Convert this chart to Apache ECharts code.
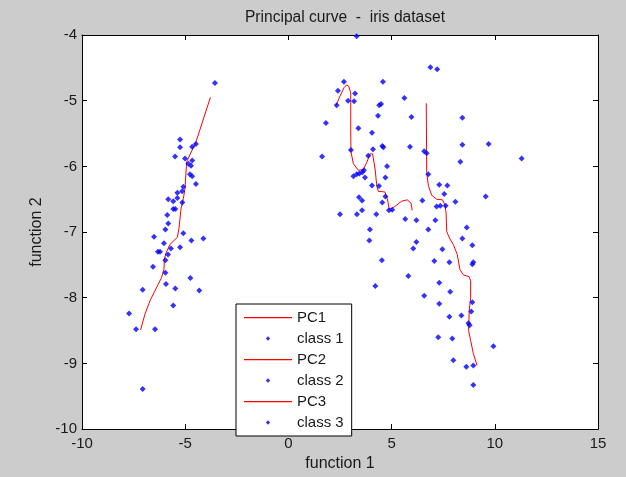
<!DOCTYPE html>
<html>
<head>
<meta charset="utf-8">
<script src="https://cdn.jsdelivr.net/npm/echarts@6/dist/echarts.min.js"></script>
<style>html,body{margin:0;padding:0;background:#cccccc;}#c{width:626px;height:477px;}</style>
</head>
<body>
<div id="c"></div>
<script>
var xTicks = [-10, -5, 0, 5, 10, 15];
var yTicks = [-10, -9, -8, -7, -6, -5, -4];

var class1 = [[-3.56,-4.73],[-5.25,-5.59],[-5.25,-5.71],[-5.49,-5.85],[-4.48,-5.66],[-4.66,-5.70],[-5.01,-5.88],[-4.66,-5.91],[-4.85,-5.96],[-4.72,-5.99],[-4.77,-6.12],[-4.66,-6.15],[-4.48,-6.27],[-5.09,-6.31],[-5.38,-6.40],[-5.38,-6.48],[-5.82,-6.50],[-5.58,-6.53],[-5.14,-6.55],[-5.15,-6.38],[-5.58,-6.65],[-5.48,-6.65],[-5.87,-6.74],[-5.82,-6.87],[-5.96,-6.96],[-6.51,-7.07],[-5.09,-7.02],[-4.70,-7.13],[-4.12,-7.10],[-6.03,-7.17],[-5.69,-7.25],[-5.25,-7.23],[-6.32,-7.30],[-6.22,-7.30],[-5.83,-7.34],[-5.96,-7.43],[-6.56,-7.53],[-5.96,-7.62],[-4.75,-7.70],[-5.93,-7.79],[-7.06,-7.88],[-5.48,-7.86],[-4.32,-7.89],[-5.58,-8.12],[-7.72,-8.24],[-7.38,-8.48],[-6.46,-8.48],[-7.06,-9.39]];

var class2 = [[3.31,-4.02],[2.69,-4.71],[4.58,-4.71],[2.40,-4.85],[3.23,-4.89],[2.34,-5.07],[2.89,-5.00],[3.18,-5.01],[4.40,-5.07],[4.49,-5.05],[5.62,-4.96],[4.34,-5.23],[5.96,-5.25],[1.82,-5.34],[3.39,-5.42],[4.05,-5.49],[4.55,-5.69],[4.60,-5.71],[5.89,-5.70],[1.63,-5.85],[3.03,-5.75],[4.10,-5.74],[3.87,-5.84],[4.78,-6.00],[4.70,-6.17],[3.15,-6.15],[3.31,-6.12],[3.44,-6.11],[3.58,-6.09],[3.66,-6.06],[3.71,-6.17],[4.05,-6.29],[4.39,-6.30],[4.70,-6.46],[3.42,-6.47],[3.57,-6.52],[4.55,-6.55],[2.50,-6.73],[3.32,-6.73],[3.57,-6.67],[4.26,-6.73],[4.87,-6.67],[5.03,-6.66],[5.66,-6.80],[6.20,-6.82],[3.95,-6.96],[3.92,-7.13],[6.20,-7.15],[6.05,-7.25],[4.53,-7.43],[5.81,-7.67],[4.21,-7.82]];

var class3 = [[6.88,-4.49],[7.21,-4.52],[6.58,-5.77],[6.70,-5.80],[8.33,-5.93],[6.78,-6.12],[7.31,-6.28],[7.70,-6.29],[7.55,-6.42],[6.49,-6.52],[8.09,-6.54],[7.18,-6.61],[7.36,-6.60],[7.62,-6.60],[7.12,-6.82],[6.78,-6.96],[8.64,-6.93],[8.43,-7.10],[8.91,-7.20],[7.46,-7.26],[7.07,-7.44],[7.80,-7.46],[8.91,-7.49],[8.96,-7.46],[7.31,-7.77],[7.84,-7.91],[6.58,-7.97],[7.31,-8.09],[8.91,-8.07],[8.86,-8.21],[7.80,-8.29],[8.38,-8.27],[8.72,-8.39],[8.78,-8.42],[7.26,-8.60],[7.94,-8.62],[9.93,-8.74],[7.99,-8.95],[8.62,-9.05],[8.96,-9.03],[8.96,-9.33],[8.43,-5.26],[8.43,-5.67],[9.70,-5.66],[11.30,-5.88],[9.56,-6.46]];

var pc1 = [[-3.78,-4.95],[-4.48,-5.63],[-4.93,-5.93],[-5.01,-6.34],[-5.09,-6.49],[-5.20,-6.64],[-5.30,-6.94],[-5.38,-7.08],[-5.74,-7.19],[-5.93,-7.32],[-6.01,-7.41],[-6.03,-7.57],[-6.14,-7.69],[-6.38,-7.84],[-6.71,-8.05],[-6.95,-8.25],[-7.16,-8.49]];

var pc2 = [[2.31,-5.07],[2.50,-4.93],[2.70,-4.80],[2.82,-4.76],[2.92,-4.78],[3.02,-4.88],[3.02,-5.43],[3.03,-5.78],[3.15,-5.96],[3.39,-6.06],[3.63,-6.05],[3.81,-5.93],[3.95,-5.81],[4.08,-5.81],[4.20,-6.04],[4.28,-6.29],[4.36,-6.38],[4.68,-6.39],[4.79,-6.49],[4.89,-6.66],[5.16,-6.61],[5.49,-6.53],[5.76,-6.51],[5.94,-6.56],[6.00,-6.67]];

var pc3 = [[6.68,-5.04],[6.70,-6.09],[6.78,-6.29],[6.94,-6.44],[7.18,-6.50],[7.47,-6.51],[7.59,-6.59],[7.64,-6.71],[7.67,-6.99],[7.80,-7.09],[7.99,-7.19],[8.18,-7.34],[8.31,-7.57],[8.47,-7.65],[8.75,-7.68],[8.83,-7.74],[8.83,-8.00],[8.76,-8.20],[8.73,-8.50],[8.83,-8.65],[8.96,-8.85],[9.14,-9.03]];

var FONT = 'Liberation Sans, Arial, sans-serif';
var LINE_ICON = 'path://M0,0M48,5M0,2L48,2L48,3.2L0,3.2Z';
var DOT_ICON = 'path://M0,0M48,5M24,0.3L26.2,2.5L24,4.7L21.8,2.5Z';
var RED_ICON_STYLE = {color: '#ff0000', borderWidth: 0};
var BLUE_ICON_STYLE = {color: '#0000ff', borderWidth: 0};
var chart = echarts.init(document.getElementById('c'), null, {renderer: 'canvas'});

function lineSeries(name, data) {
  return {name: name, type: 'line', data: data, symbol: 'none', smooth: false,
    lineStyle: {color: '#ff0000', width: 1}, itemStyle: {color: '#ff0000'}, z: 3, animation: false};
}
function scatterSeries(name, data) {
  return {name: name, type: 'scatter', data: data, symbol: 'diamond', symbolSize: 6,
    itemStyle: {color: '#0000ff'}, z: 4, animation: false, clip: false};
}
function xAx(pos, showLabel) {
  return {type: 'value', position: pos, min: xTicks[0], max: xTicks[xTicks.length-1], interval: 5,
    axisLine: {show: true, onZero: false, lineStyle: {color: '#000', width: 1}},
    axisTick: {show: true, inside: true, length: 5, lineStyle: {color: '#000'}},
    axisLabel: {show: showLabel, color: '#1a1a1a', fontSize: 15, fontFamily: FONT, margin: 7},
    splitLine: {show: false}};
}
function yAx(pos, showLabel) {
  return {type: 'value', position: pos, min: yTicks[0], max: yTicks[yTicks.length-1], interval: 1,
    axisLine: {show: true, onZero: false, lineStyle: {color: '#000', width: 1}},
    axisTick: {show: true, inside: true, length: 5, lineStyle: {color: '#000'}},
    axisLabel: {show: showLabel, color: '#1a1a1a', fontSize: 15, fontFamily: FONT, margin: 5},
    splitLine: {show: false}};
}

var xa0 = xAx('bottom', true);
xa0.name = 'function 1'; xa0.nameLocation = 'middle'; xa0.nameGap = 26;
xa0.nameTextStyle = {color: '#1a1a1a', fontSize: 16, fontFamily: FONT};
var ya0 = yAx('left', true);
ya0.name = 'function 2'; ya0.nameLocation = 'middle'; ya0.nameGap = 36;
ya0.nameTextStyle = {color: '#1a1a1a', fontSize: 16, fontFamily: FONT};

var option = {
  backgroundColor: '#cccccc',
  animation: false,
  title: {text: 'Principal curve  -  iris dataset', left: 340, textAlign: 'center', top: 5,
    textStyle: {color: '#1a1a1a', fontSize: 15.6, fontWeight: 'normal', fontFamily: FONT}},
  grid: {left: 82, right: 28, top: 35, bottom: 44, show: true, backgroundColor: '#ffffff', borderWidth: 0},
  xAxis: [xa0, xAx('top', false)],
  yAxis: [ya0, yAx('right', false)],
  legend: {
    orient: 'vertical', left: 236, top: 304,
    padding: [5, 8, 5, 8], itemGap: 4, itemWidth: 48, itemHeight: 5,
    backgroundColor: '#ffffff', borderColor: '#000', borderWidth: 1, borderRadius: 0,
    textStyle: {color: '#1a1a1a', fontSize: 15, fontFamily: FONT, lineHeight: 17},
    data: [
      {name: 'PC1', icon: LINE_ICON, itemStyle: RED_ICON_STYLE},
      {name: 'class 1', icon: DOT_ICON, itemStyle: BLUE_ICON_STYLE},
      {name: 'PC2', icon: LINE_ICON, itemStyle: RED_ICON_STYLE},
      {name: 'class 2', icon: DOT_ICON, itemStyle: BLUE_ICON_STYLE},
      {name: 'PC3', icon: LINE_ICON, itemStyle: RED_ICON_STYLE},
      {name: 'class 3', icon: DOT_ICON, itemStyle: BLUE_ICON_STYLE}
    ],
    selectedMode: false
  },
  series: [
    lineSeries('PC1', pc1), scatterSeries('class 1', class1),
    lineSeries('PC2', pc2), scatterSeries('class 2', class2),
    lineSeries('PC3', pc3), scatterSeries('class 3', class3)
  ]
};
chart.setOption(option);
</script>
</body>
</html>
